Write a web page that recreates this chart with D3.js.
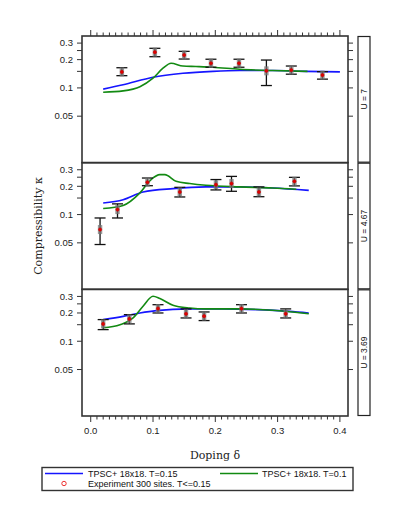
<!DOCTYPE html>
<html>
<head>
<meta charset="utf-8">
<script src="https://cdn.jsdelivr.net/npm/d3@7"></script>
<style>
  body { margin: 0; background: #fff; }
  svg text { font-family: "Liberation Sans", Arial, sans-serif; }
  .serif { font-family: "DejaVu Serif", "Liberation Serif", serif; }
</style>
</head>
<body>
<svg id="chart" width="397" height="517"></svg>
<script>
// strip labels, top to bottom
var strips = ["U = 7", "U = 4.67", "U = 3.69"];

// experiment (red points with error bars)
var expX_7 = [0.05, 0.103, 0.15, 0.193, 0.238, 0.282, 0.322, 0.372];
var expY_7 = [0.148, 0.240, 0.224, 0.183, 0.183, 0.152, 0.155, 0.137];
var expLo_7 = [0.135, 0.215, 0.203, 0.166, 0.166, 0.106, 0.140, 0.124];
var expHi_7 = [0.164, 0.264, 0.245, 0.202, 0.202, 0.198, 0.171, 0.149];

var expX_467 = [0.015, 0.043, 0.091, 0.143, 0.201, 0.226, 0.270, 0.327];
var expY_467 = [0.0693, 0.113, 0.221, 0.174, 0.208, 0.214, 0.174, 0.226];
var expLo_467 = [0.048, 0.092, 0.203, 0.154, 0.183, 0.177, 0.155, 0.202];
var expHi_467 = [0.092, 0.130, 0.245, 0.195, 0.236, 0.255, 0.197, 0.249];

var expX_369 = [0.020, 0.062, 0.108, 0.153, 0.182, 0.242, 0.313];
var expY_369 = [0.153, 0.173, 0.223, 0.196, 0.185, 0.223, 0.196];
var expLo_369 = [0.133, 0.153, 0.200, 0.177, 0.166, 0.200, 0.177];
var expHi_369 = [0.170, 0.192, 0.245, 0.221, 0.205, 0.245, 0.221];

// TPSC+ T=0.15 (blue)
var blueX_7 = [0.02, 0.052, 0.100, 0.148, 0.196, 0.239, 0.292, 0.346, 0.40];
var blueY_7 = [0.097, 0.108, 0.130, 0.143, 0.150, 0.153, 0.153, 0.150, 0.148];
var blueX_467 = [0.02, 0.052, 0.084, 0.132, 0.185, 0.239, 0.292, 0.350];
var blueY_467 = [0.133, 0.144, 0.174, 0.189, 0.197, 0.197, 0.192, 0.181];
var blueX_369 = [0.02, 0.052, 0.079, 0.105, 0.159, 0.212, 0.266, 0.319, 0.350];
var blueY_369 = [0.170, 0.184, 0.200, 0.212, 0.221, 0.221, 0.217, 0.208, 0.200];

// TPSC+ T=0.1 (green)
var greenX_7 = [0.02, 0.052, 0.079, 0.100, 0.116, 0.129, 0.148, 0.169, 0.196, 0.239, 0.292, 0.348];
var greenY_7 = [0.090, 0.093, 0.103, 0.127, 0.162, 0.183, 0.171, 0.169, 0.166, 0.158, 0.153, 0.150];
var greenX_467 = [0.02, 0.052, 0.079, 0.097, 0.111, 0.119, 0.137, 0.159, 0.185, 0.239, 0.292, 0.330];
var greenY_467 = [0.116, 0.125, 0.170, 0.236, 0.266, 0.266, 0.226, 0.214, 0.205, 0.197, 0.192, 0.186];
var greenX_369 = [0.02, 0.047, 0.068, 0.084, 0.100, 0.111, 0.132, 0.159, 0.185, 0.239, 0.292, 0.350];
var greenY_369 = [0.139, 0.150, 0.177, 0.236, 0.301, 0.285, 0.242, 0.226, 0.221, 0.221, 0.214, 0.196];

var yTicks = [0.05, 0.1, 0.15, 0.2, 0.25, 0.3];
var yLabeled = [0.05, 0.1, 0.2, 0.3];
var xMajor = [0, 0.1, 0.2, 0.3, 0.4];
var xMinor = d3.range(0, 41).map(function (i) { return i / 100; });

var legendItems = ["TPSC+ 18x18. T=0.15", "TPSC+ 18x18. T=0.1", "Experiment 300 sites. T<=0.15"];

var panels = [
  { exp: [expX_7, expY_7, expLo_7, expHi_7], blue: [blueX_7, blueY_7], green: [greenX_7, greenY_7] },
  { exp: [expX_467, expY_467, expLo_467, expHi_467], blue: [blueX_467, blueY_467], green: [greenX_467, greenY_467] },
  { exp: [expX_369, expY_369, expLo_369, expHi_369], blue: [blueX_369, blueY_369], green: [greenX_369, greenY_369] }
];

var svg = d3.select("#chart");
var plotL = 82, plotR = 348, plotT = 36, plotB = 416;
var ph = (plotB - plotT) / 3;
var frameColor = "#333";

var x = d3.scaleLinear().domain([-0.014, 0.413]).range([plotL, plotR]);

panels.forEach(function (p, i) {
  var y0 = plotT + i * ph;
  var y = d3.scaleLog().domain([0.016, 0.357]).range([y0 + ph, y0]);
  var g = svg.append("g");

  // y ticks both sides
  g.selectAll("line.yl").data(yTicks).enter().append("line")
    .attr("x1", plotL - 5).attr("x2", plotL)
    .attr("y1", function (d) { return y(d); }).attr("y2", function (d) { return y(d); })
    .attr("stroke", frameColor).attr("stroke-width", 1);
  g.selectAll("line.yr").data(yTicks).enter().append("line")
    .attr("x1", plotR).attr("x2", plotR + 5)
    .attr("y1", function (d) { return y(d); }).attr("y2", function (d) { return y(d); })
    .attr("stroke", frameColor).attr("stroke-width", 1);
  g.selectAll("text.yt").data(yLabeled).enter().append("text")
    .attr("x", plotL - 9).attr("y", function (d) { return y(d) + 3.3; })
    .attr("text-anchor", "end").attr("font-size", 9.5).attr("fill", "#222")
    .text(function (d) { return d; });

  // x ticks top of first, bottom of last
  if (i === 0 || i === 2) {
    var base = i === 0 ? y0 : y0 + ph;
    var dir = i === 0 ? -1 : 1;
    g.selectAll("line.xm").data(xMinor).enter().append("line")
      .attr("x1", function (d) { return x(d); }).attr("x2", function (d) { return x(d); })
      .attr("y1", base).attr("y2", function (d) {
        return base + dir * (Math.round(d * 100) % 10 === 0 ? 6 : 3.5);
      })
      .attr("stroke", frameColor).attr("stroke-width", 1);
  }

  // curves
  var line = d3.line().curve(d3.curveMonotoneX)
    .x(function (d) { return x(d[0]); }).y(function (d) { return y(d[1]); });
  g.append("path").datum(d3.zip(p.blue[0], p.blue[1]))
    .attr("d", line).attr("fill", "none").attr("stroke", "#1515ff").attr("stroke-width", 1.6);
  g.append("path").datum(d3.zip(p.green[0], p.green[1]))
    .attr("d", line).attr("fill", "none").attr("stroke", "#128a12").attr("stroke-width", 1.6);

  // experiment points
  var pts = d3.zip(p.exp[0], p.exp[1], p.exp[2], p.exp[3]);
  var pg = g.selectAll("g.pt").data(pts).enter().append("g");
  pg.append("line")
    .attr("x1", function (d) { return x(d[0]); }).attr("x2", function (d) { return x(d[0]); })
    .attr("y1", function (d) { return y(d[2]); }).attr("y2", function (d) { return y(d[3]); })
    .attr("stroke", "#111").attr("stroke-width", 1.3);
  [2, 3].forEach(function (k) {
    pg.append("line")
      .attr("x1", function (d) { return x(d[0]) - 5.5; }).attr("x2", function (d) { return x(d[0]) + 5.5; })
      .attr("y1", function (d) { return y(d[k]); }).attr("y2", function (d) { return y(d[k]); })
      .attr("stroke", "#111").attr("stroke-width", 1.3);
  });
  pg.append("rect")
    .attr("x", function (d) { return x(d[0]) - 2.2; }).attr("y", function (d) { return y(d[1]) - 4.5; })
    .attr("width", 4.4).attr("height", 9)
    .attr("fill", "#777").attr("opacity", 0.75);
  pg.append("circle")
    .attr("cx", function (d) { return x(d[0]); }).attr("cy", function (d) { return y(d[1]); })
    .attr("r", 1.6).attr("fill", "#e00000").attr("stroke", "#c00").attr("stroke-width", 0.6);

  // frame
  g.append("rect").attr("x", plotL).attr("y", y0).attr("width", plotR - plotL).attr("height", ph)
    .attr("fill", "none").attr("stroke", frameColor).attr("stroke-width", 1.6);

  // strip
  g.append("rect").attr("x", 358).attr("y", y0 + 0.5).attr("width", 12).attr("height", ph - 1)
    .attr("fill", "#fff").attr("stroke", "#222").attr("stroke-width", 1.2);
  g.append("text")
    .attr("transform", "translate(367," + (y0 + ph / 2) + ")rotate(-90)")
    .attr("text-anchor", "middle").attr("font-size", 8.5).attr("fill", "#111")
    .text(strips[i]);
});

// x tick labels
svg.selectAll("text.xt").data(xMajor).enter().append("text")
  .attr("x", function (d) { return x(d); }).attr("y", plotB + 18)
  .attr("text-anchor", "middle").attr("font-size", 9.5).attr("fill", "#222")
  .text(function (d) { return d.toFixed(1); });

// axis titles
svg.append("text").attr("class", "serif")
  .attr("x", 215).attr("y", 459).attr("text-anchor", "middle")
  .attr("font-size", 11).attr("fill", "#222").text("Doping δ");
svg.append("text").attr("class", "serif")
  .attr("transform", "translate(42," + ((plotT + plotB) / 2) + ")rotate(-90)")
  .attr("text-anchor", "middle").attr("font-size", 11).attr("fill", "#222")
  .text("Compressibility κ");

// legend
var lg = svg.append("g");
lg.append("rect").attr("x", 42).attr("y", 467.5).attr("width", 311).attr("height", 23)
  .attr("fill", "#fff").attr("stroke", frameColor).attr("stroke-width", 1.4);
lg.append("line").attr("x1", 45).attr("x2", 83).attr("y1", 473.5).attr("y2", 473.5)
  .attr("stroke", "#1515ff").attr("stroke-width", 1.6);
lg.append("line").attr("x1", 220).attr("x2", 258).attr("y1", 473.5).attr("y2", 473.5)
  .attr("stroke", "#128a12").attr("stroke-width", 1.6);
lg.append("circle").attr("cx", 64).attr("cy", 483.5).attr("r", 2.2)
  .attr("fill", "none").attr("stroke", "#e33").attr("stroke-width", 1);
lg.append("text").attr("x", 88).attr("y", 476.8).attr("font-size", 9).attr("fill", "#111").text(legendItems[0]);
lg.append("text").attr("x", 262).attr("y", 476.8).attr("font-size", 9).attr("fill", "#111").text(legendItems[1]);
lg.append("text").attr("x", 88).attr("y", 486.8).attr("font-size", 9).attr("fill", "#111").text(legendItems[2]);
</script>
</body>
</html>
